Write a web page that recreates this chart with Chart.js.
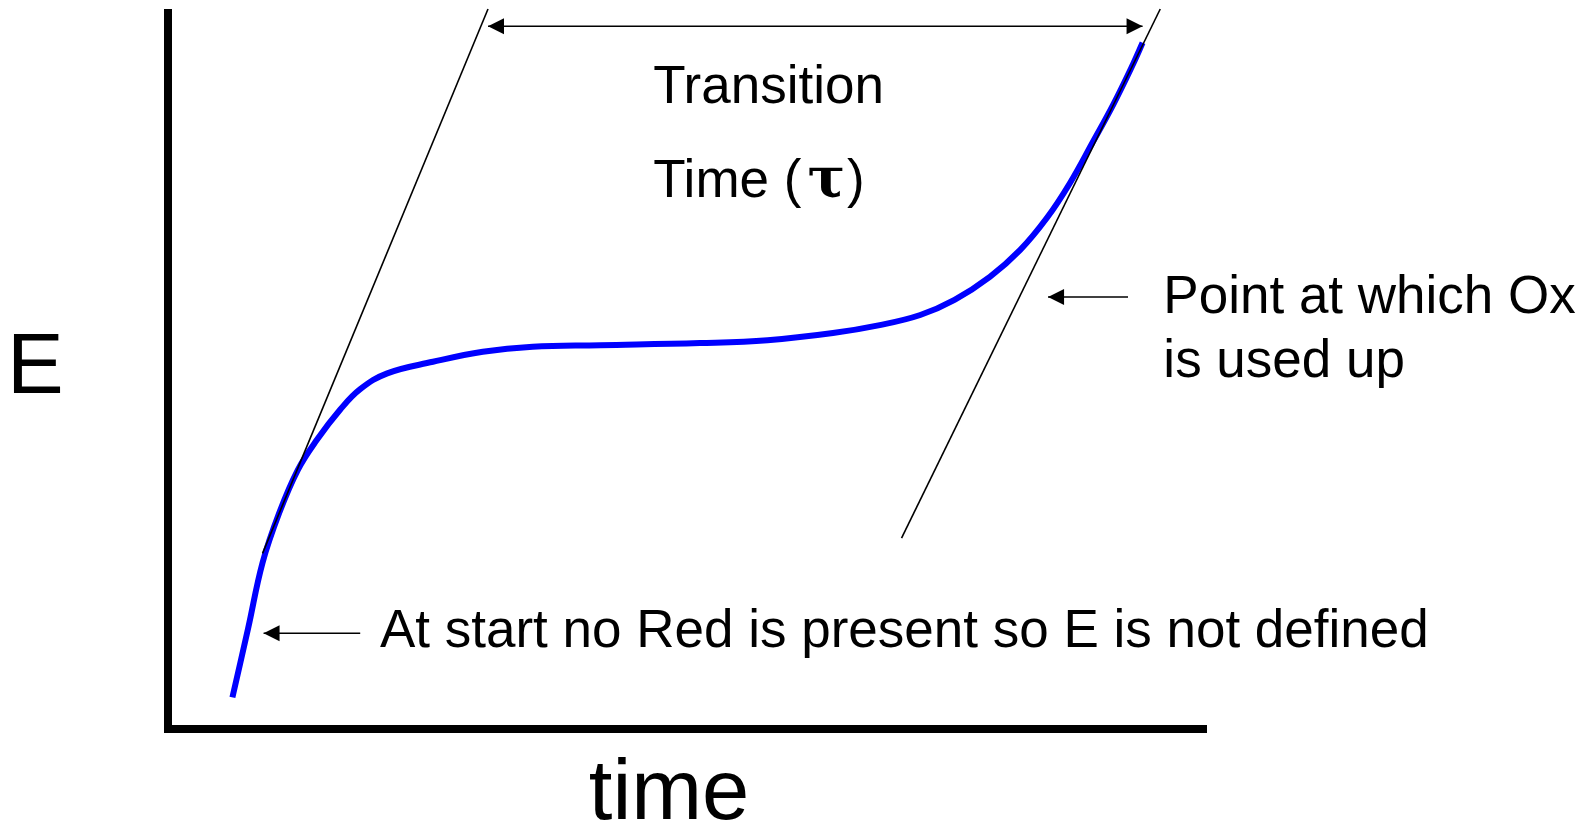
<!DOCTYPE html>
<html>
<head>
<meta charset="utf-8">
<title>Transition time</title>
<script src="https://cdn.jsdelivr.net/npm/chart.js@4.4.1/dist/chart.umd.min.js"></script>
<style>
  html, body { margin: 0; padding: 0; background: #fff; }
  #wrap { width: 1585px; height: 828px; }
</style>
</head>
<body>
<div id="wrap"><canvas id="chronoChart" width="1585" height="828"></canvas></div>
<script>
// E vs time curve, arbitrary units (0-100 on both axes)
const curveTime = [6.2, 7.7, 9.1, 10.7, 12.5, 14.3, 16.6, 18.5, 21.1, 25.5, 30.3, 35.1, 41.6, 51.2, 57.7, 64.0, 68.5, 72.4, 75.7, 79.1, 82.0, 84.6, 86.8, 89.0, 91.0, 92.9, 93.8];
const curveE    = [4.4, 13.9, 23.1, 30.0, 36.0, 40.1, 44.4, 47.2, 49.4, 51.0, 52.4, 53.1, 53.3, 53.6, 54.0, 55.0, 56.1, 57.5, 59.6, 62.8, 66.5, 71.0, 75.8, 81.5, 86.8, 92.4, 95.3];

// tangent at the start of the curve and at the end of the plateau
const tangentStartTime = [9.1, 30.8];
const tangentStartE    = [24.4, 100];
const tangentEndTime   = [70.6, 95.5];
const tangentEndE      = [26.5, 100];

// axis labels
const xAxisLabel = 'time';
const yAxisLabel = 'E';

// annotation arrows, in data units
const arrowFrom = [[30.8, 97.6], [92.4, 60.0], [18.5, 13.3]];
const arrowTo   = [[93.8, 97.6], [84.7, 60.0], [9.2, 13.3]];
const arrowBoth = [true, false, false];

// annotation texts, in data units (left, baseline)
const noteTexts = ['Transition', 'Point at which Ox', 'is used up', 'At start no Red is present so E is not defined'];
const noteX     = [46.7, 95.8, 95.8, 20.4];
const noteY     = [86.9, 57.8, 48.9, 11.4];

const textFont = '53px "Liberation Sans", Arial, sans-serif';

function toPoints(xs, ys) {
    return xs.map((x, i) => ({ x: x, y: ys[i] }));
}

function drawArrow(ctx, x1, y1, x2, y2, both) {
    const head = 16, half = 8;
    ctx.save();
    ctx.strokeStyle = '#000';
    ctx.fillStyle = '#000';
    ctx.lineWidth = 1.6;
    ctx.beginPath();
    ctx.moveTo(x1, y1);
    ctx.lineTo(x2, y2);
    ctx.stroke();
    const tips = both ? [[x2, y2, x1, y1], [x1, y1, x2, y2]] : [[x2, y2, x1, y1]];
    tips.forEach(function (t) {
        const ang = Math.atan2(t[1] - t[3], t[0] - t[2]);
        ctx.beginPath();
        ctx.moveTo(t[0], t[1]);
        ctx.lineTo(t[0] - head * Math.cos(ang) + half * Math.sin(ang), t[1] - head * Math.sin(ang) - half * Math.cos(ang));
        ctx.lineTo(t[0] - head * Math.cos(ang) - half * Math.sin(ang), t[1] - head * Math.sin(ang) + half * Math.cos(ang));
        ctx.closePath();
        ctx.fill();
    });
    ctx.restore();
}

// Axes, arrows and texts
const annotationsPlugin = {
    id: 'annotations',
    beforeDatasetsDraw(chart) {
        const ctx = chart.ctx;
        const a = chart.chartArea;
        ctx.save();
        ctx.fillStyle = '#000';
        ctx.fillRect(a.left - 4, a.top, 8, a.bottom - a.top + 4);
        ctx.fillRect(a.left - 4, a.bottom - 4, a.right - a.left + 4, 8);
        ctx.restore();
    },
    afterDatasetsDraw(chart) {
        const ctx = chart.ctx;
        const xs = chart.scales.x;
        const ys = chart.scales.y;

        arrowFrom.forEach(function (f, i) {
            const t = arrowTo[i];
            drawArrow(ctx, xs.getPixelForValue(f[0]), ys.getPixelForValue(f[1]),
                xs.getPixelForValue(t[0]), ys.getPixelForValue(t[1]), arrowBoth[i]);
        });

        ctx.save();
        ctx.fillStyle = '#000';
        ctx.textBaseline = 'alphabetic';
        ctx.textAlign = 'left';
        ctx.font = textFont;
        noteTexts.forEach(function (txt, i) {
            ctx.fillText(txt, xs.getPixelForValue(noteX[i]), ys.getPixelForValue(noteY[i]));
        });

        // "Time (τ)" with a larger serif tau
        let px = xs.getPixelForValue(46.7);
        const py = ys.getPixelForValue(73.9);
        ctx.fillText('Time (', px, py);
        px += ctx.measureText('Time (').width + 6;
        ctx.font = 'bold 56px "DejaVu Serif", serif';
        ctx.fillText('\u03c4', px, py);
        px += ctx.measureText('\u03c4').width + 2;
        ctx.font = textFont;
        ctx.fillText(')', px, py);

        // axis labels
        ctx.font = '85px "Liberation Sans", Arial, sans-serif';
        ctx.fillText(yAxisLabel, xs.getPixelForValue(-15.5), ys.getPixelForValue(46.7));
        ctx.fillText(xAxisLabel, xs.getPixelForValue(40.5), ys.getPixelForValue(-12.5));
        ctx.restore();
    }
};

const ctx = document.getElementById('chronoChart').getContext('2d');
const myChart = new Chart(ctx, {
    type: 'scatter',
    data: {
        datasets: [{
            label: 'E',
            data: toPoints(curveTime, curveE),
            showLine: true,
            borderColor: '#0000ff',
            borderWidth: 6,
            pointRadius: 0,
            tension: 0.4,
            clip: false,
            order: 2
        }, {
            label: 'tangent start',
            data: toPoints(tangentStartTime, tangentStartE),
            showLine: true,
            borderColor: '#000',
            borderWidth: 1.6,
            pointRadius: 0,
            clip: false,
            order: 1
        }, {
            label: 'tangent end',
            data: toPoints(tangentEndTime, tangentEndE),
            showLine: true,
            borderColor: '#000',
            borderWidth: 1.6,
            pointRadius: 0,
            clip: false,
            order: 1
        }]
    },
    options: {
        responsive: false,
        animation: false,
        layout: {
            padding: { left: 168, right: 378, top: 9, bottom: 99 }
        },
        scales: {
            x: { type: 'linear', min: 0, max: 100, display: false },
            y: { type: 'linear', min: 0, max: 100, display: false }
        },
        plugins: {
            legend: { display: false },
            tooltip: { enabled: false }
        }
    },
    plugins: [annotationsPlugin]
});
</script>
</body>
</html>
